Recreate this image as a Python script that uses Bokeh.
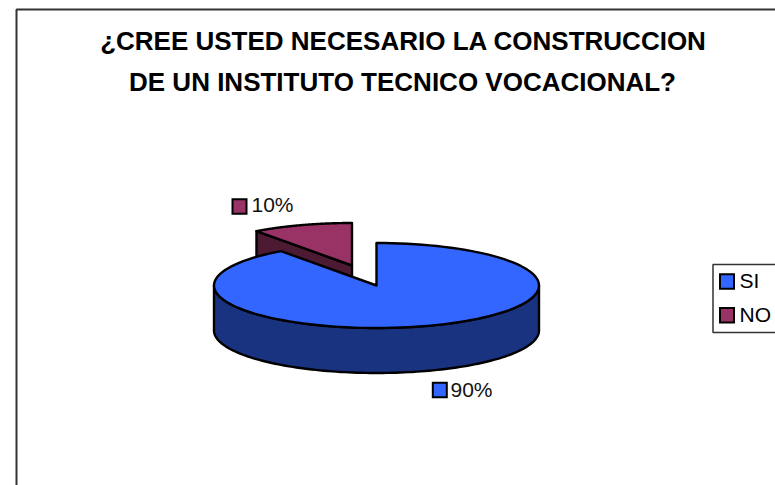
import numpy as np
from bokeh.plotting import figure
from bokeh.models import Range1d
from bokeh.core.properties import value
from bokeh.embed import file_html
from bokeh.resources import INLINE

categories = ["SI", "NO"]
values = [90, 10]
labels = ["90%", "10%"]
title_lines = ["¿CREE USTED NECESARIO LA CONSTRUCCION", "DE UN INSTITUTO TECNICO VOCACIONAL?"]
top_colors = ["#3366FF", "#993366"]
side_colors = ["#1A3380", "#4D1A33"]

FONT = value("Liberation Sans")
CX, CY, RX, RY, DEPTH = 376, 285, 162.5, 42.5, 45
EXPLODE_X, EXPLODE_Y = -24.5, -20
LW = 2.4

p = figure(width=775, height=485, x_range=Range1d(0, 775), y_range=Range1d(485, 0),
           toolbar_location=None, output_backend="svg", min_border=0,
           outline_line_color=None, background_fill_color="white")
p.axis.visible = False
p.grid.visible = False

# chart frame
p.line([16, 16, 775], [485, 9, 9], line_color="#333333", line_width=2)

def rim(t0, t1, cx, cy):
    t = np.radians(np.linspace(t0, t1, 120))
    return cx + RX * np.sin(t), cy - RY * np.cos(t)

total = sum(values)
split = 360 * values[0] / total

# NO slice (exploded): walls, then top
nx, ny = CX + EXPLODE_X, CY + EXPLODE_Y
ex, ey = rim(split, 360, nx, ny)
p.patch([ex[0], nx, nx, ex[0]], [ey[0], ny, ny + DEPTH, ey[0] + DEPTH],
        fill_color=side_colors[1], line_color="black", line_width=LW, line_join="round")
p.patch([nx, *ex], [ny, *ey], fill_color=top_colors[1], line_color="black",
        line_width=LW, line_join="round")

# SI slice: outer wall, then top
wx, wy = rim(90, 270, CX, CY)
p.patch([*wx, *wx[::-1]], [*wy, *(wy[::-1] + DEPTH)], fill_color=side_colors[0],
        line_color="black", line_width=LW, line_join="round")
tx, ty = rim(0, split, CX, CY)
p.patch([CX, *tx], [CY, *ty], fill_color=top_colors[0], line_color="black",
        line_width=LW, line_join="round")

# title
p.text([403, 402], [40, 81], text=title_lines, text_font=FONT, text_font_style="bold",
       text_font_size="26px", text_align="center", text_baseline="alphabetic", text_color="black")

# data labels
p.rect([439.3, 239], [389.5, 206], width=14, height=14.5, fill_color=top_colors,
       line_color="black", line_width=2, line_join="miter")
p.text([450, 251], [389, 204], text=labels, text_font=FONT, text_font_size="21px",
       text_baseline="alphabetic", text_color="#111111")

# legend
p.line([775, 712.5, 712.5, 775], [264, 264, 332, 332], line_color="#333333", line_width=1.5)
p.rect([726.5, 726.5], [281, 314.7], width=14, height=14.5, fill_color=top_colors,
       line_color="black", line_width=2, line_join="miter")
p.text([739, 739], [280, 314], text=categories, text_font=FONT, text_font_size="21px",
       text_baseline="alphabetic", text_color="black")

open("out.html", "w").write(file_html(p, INLINE))
